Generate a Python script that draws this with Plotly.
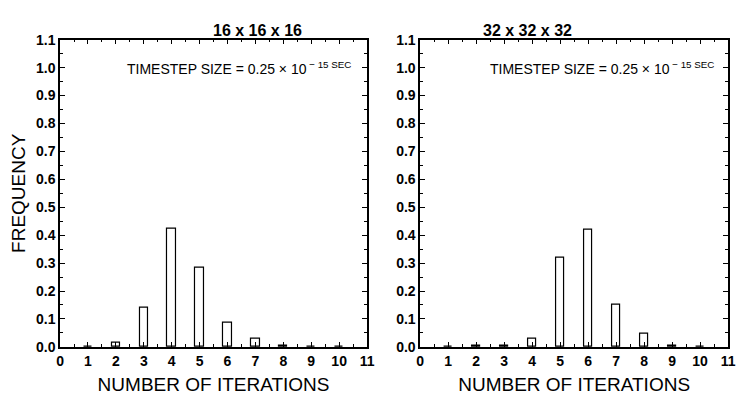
import plotly.graph_objects as go
from plotly.subplots import make_subplots

iterations = [1, 2, 3, 4, 5, 6, 7, 8, 9, 10]
freq_16 = [0.002, 0.015, 0.140, 0.425, 0.285, 0.088, 0.028, 0.005, 0.001, 0.001]
freq_32 = [0.001, 0.003, 0.005, 0.028, 0.320, 0.418, 0.152, 0.048, 0.003, 0.001]
panel_titles = ["16 x 16 x 16", "32 x 32 x 32"]
x_ticks = list(range(0, 12))
y_ticks = [round(0.1 * i, 1) for i in range(12)]

W, H = 743, 400
fig = make_subplots(rows=1, cols=2)

for col, vals in [(1, freq_16), (2, freq_32)]:
    fig.add_trace(go.Bar(x=iterations, y=vals, width=0.3,
                         marker=dict(color="white", line=dict(color="black", width=1.2)),
                         showlegend=False), row=1, col=col)

font_tick = dict(family="Liberation Sans, Arial", size=14, color="black", weight="bold")
title_font = dict(family="Liberation Sans, Arial", size=19, color="black")
xdom = [[57 / W, 369 / W], [423 / W, 736 / W]]
ydom = [1 - 353 / H, 1 - 33 / H]

for i, col in enumerate([1, 2]):
    fig.update_xaxes(row=1, col=col, domain=xdom[i], range=[0, 11],
                     tickmode="array", tickvals=x_ticks, ticktext=[str(v) for v in x_ticks],
                     ticks="inside", ticklen=5, tickcolor="black", tickwidth=1,
                     ticklabelstandoff=1,
                     minor=dict(dtick=0.5, tick0=0, ticks="inside", ticklen=3, tickcolor="black"),
                     showline=True, linecolor="black", linewidth=1.5, mirror="ticks",
                     showgrid=False, zeroline=False, tickfont=font_tick,
                     title=dict(text="NUMBER OF ITERATIONS", standoff=9, font=title_font))
    fig.update_yaxes(row=1, col=col, domain=ydom, range=[0, 1.1],
                     tickmode="array", tickvals=y_ticks, ticktext=[f"{v:.1f}" for v in y_ticks],
                     ticks="inside", ticklen=5, tickcolor="black", tickwidth=1,
                     minor=dict(dtick=0.05, tick0=0, ticks="inside", ticklen=3, tickcolor="black"),
                     showline=True, linecolor="black", linewidth=1.5, mirror="ticks",
                     showgrid=False, zeroline=False, tickfont=font_tick)

fig.update_yaxes(row=1, col=1, title=dict(text="FREQUENCY", standoff=5, font=title_font))

title_x = [210, 579]
ann_x = [355, 724]
for i in range(2):
    fig.add_annotation(x=title_x[i] / W, y=1 - 12 / H, xref="paper", yref="paper",
                       text=f"<b>{panel_titles[i]}</b>", showarrow=False,
                       font=dict(family="Liberation Sans, Arial", size=16, color="black"))
    fig.add_annotation(x=ann_x[i] / W, y=1 - 62 / H, xref="paper", yref="paper",
                       xanchor="right", yanchor="middle",
                       text="TIMESTEP SIZE = 0.25 × 10<sup> − 15 SEC</sup>", showarrow=False,
                       font=dict(family="Liberation Sans Narrow, Liberation Sans, Arial", size=14, color="black"))

fig.update_layout(width=W, height=H, margin=dict(l=0, r=0, t=0, b=0),
                  plot_bgcolor="white", paper_bgcolor="white", bargap=0)
fig.write_html("out.html")
